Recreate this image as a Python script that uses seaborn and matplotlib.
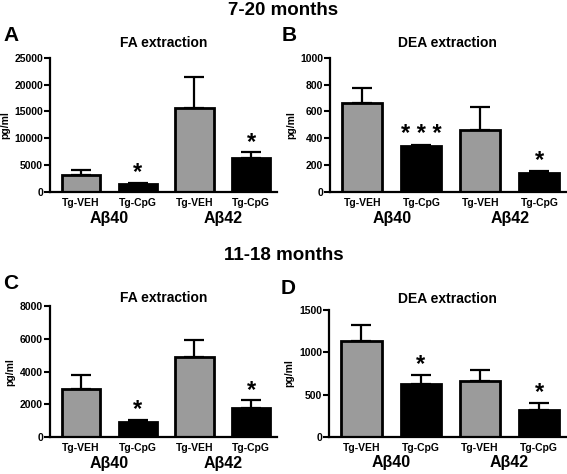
import seaborn as sns
import matplotlib.pyplot as plt
from matplotlib.transforms import blended_transform_factory
import pandas as pd

# bar order: Abeta40 VEH, Abeta40 CpG, Abeta42 VEH, Abeta42 CpG
bar_labels = ["Tg-VEH", "Tg-CpG", "Tg-VEH", "Tg-CpG"]
groups = ["Aβ40", "Aβ42"]

fa_7_20 = [3200, 1500, 15700, 6300]
fa_7_20_err = [900, 200, 5800, 1100]
dea_7_20 = [660, 340, 465, 145]
dea_7_20_err = [115, 10, 170, 15]
fa_11_18 = [2950, 900, 4900, 1800]
fa_11_18_err = [850, 150, 1050, 450]
dea_11_18 = [1130, 630, 665, 320]
dea_11_18_err = [190, 105, 125, 80]

stars_a = ["", "*", "", "*"]
stars_b = ["", "* * *", "", "*"]
stars_c = ["", "*", "", "*"]
stars_d = ["", "*", "", "*"]

BAR_COLORS = ["#9b9b9b", "#000000", "#9b9b9b", "#000000"]


def draw_panel(ax, values, errors, stars, title, ymax, step, letter, title_pad=8):
    df = pd.DataFrame({"bar": [f"b{i}" for i in range(4)], "value": values})
    sns.barplot(
        data=df, x="bar", y="value", hue="bar", palette=BAR_COLORS,
        legend=False, errorbar=None, width=0.68, edgecolor="black",
        linewidth=2, ax=ax, zorder=2,
    )
    ax.errorbar(
        range(4), values, yerr=[[0] * 4, errors], fmt="none",
        ecolor="black", elinewidth=1.6, capsize=7.5, capthick=1.6, zorder=1,
    )
    for i, s in enumerate(stars):
        if s:
            ax.text(i, values[i] + errors[i] - ymax * 0.01, s, ha="center",
                    va="bottom", fontsize=17, fontweight="bold")

    ax.set_ylim(0, ymax)
    ax.set_xlim(-0.55, 3.45)
    ax.set_yticks(range(0, ymax + 1, step))
    ax.set_xticks(range(4))
    ax.set_xticklabels(bar_labels, fontsize=7.5, fontweight="bold")
    for lab in ax.get_yticklabels():
        lab.set_fontweight("bold")
        lab.set_fontsize(7.5)
    ax.tick_params(axis="x", length=0, pad=4)
    ax.tick_params(axis="y", length=4, width=1.5, pad=1)
    ax.set_xlabel("")
    ax.set_ylabel("pg/ml", fontsize=7.5, fontweight="bold", labelpad=3)
    ax.set_title(title, fontsize=10, fontweight="bold", pad=title_pad)
    sns.despine(ax=ax)
    ax.spines["left"].set_linewidth(1.6)
    ax.spines["bottom"].set_linewidth(1.6)

    trans = blended_transform_factory(ax.transData, ax.transAxes)
    ax.text(0.5, -0.2, groups[0], transform=trans, ha="center", va="center",
            fontsize=11.5, fontweight="bold")
    ax.text(2.5, -0.2, groups[1], transform=trans, ha="center", va="center",
            fontsize=11.5, fontweight="bold")
    ax.text(-0.205, 1.17, letter, transform=ax.transAxes, ha="left",
            va="center", fontsize=15, fontweight="bold")


sns.set_style("ticks")
plt.rcParams["font.family"] = ["Liberation Sans", "DejaVu Sans"]
plt.rcParams.update({
    "text.color": "black",
    "axes.labelcolor": "black",
    "axes.edgecolor": "black",
    "xtick.color": "black",
    "ytick.color": "black",
})

fig = plt.figure(figsize=(5.67, 4.74), dpi=100)
ax_a = fig.add_axes([0.088, 0.595, 0.40, 0.283])
ax_b = fig.add_axes([0.582, 0.595, 0.416, 0.283])
ax_c = fig.add_axes([0.088, 0.078, 0.40, 0.276])
ax_d = fig.add_axes([0.580, 0.078, 0.418, 0.268])

draw_panel(ax_a, fa_7_20, fa_7_20_err, stars_a, "FA extraction", 25000, 5000, "A")
draw_panel(ax_b, dea_7_20, dea_7_20_err, stars_b, "DEA extraction", 1000, 200, "B")
draw_panel(ax_c, fa_11_18, fa_11_18_err, stars_c, "FA extraction", 8000, 2000, "C",
           title_pad=3)
draw_panel(ax_d, dea_11_18, dea_11_18_err, stars_d, "DEA extraction", 1500, 500, "D",
           title_pad=5)

fig.text(0.5, 0.978, "7-20 months", ha="center", va="center",
         fontsize=13.5, fontweight="bold")
fig.text(0.5, 0.462, "11-18 months", ha="center", va="center",
         fontsize=13.5, fontweight="bold")

fig.savefig("out.png", dpi=100)
